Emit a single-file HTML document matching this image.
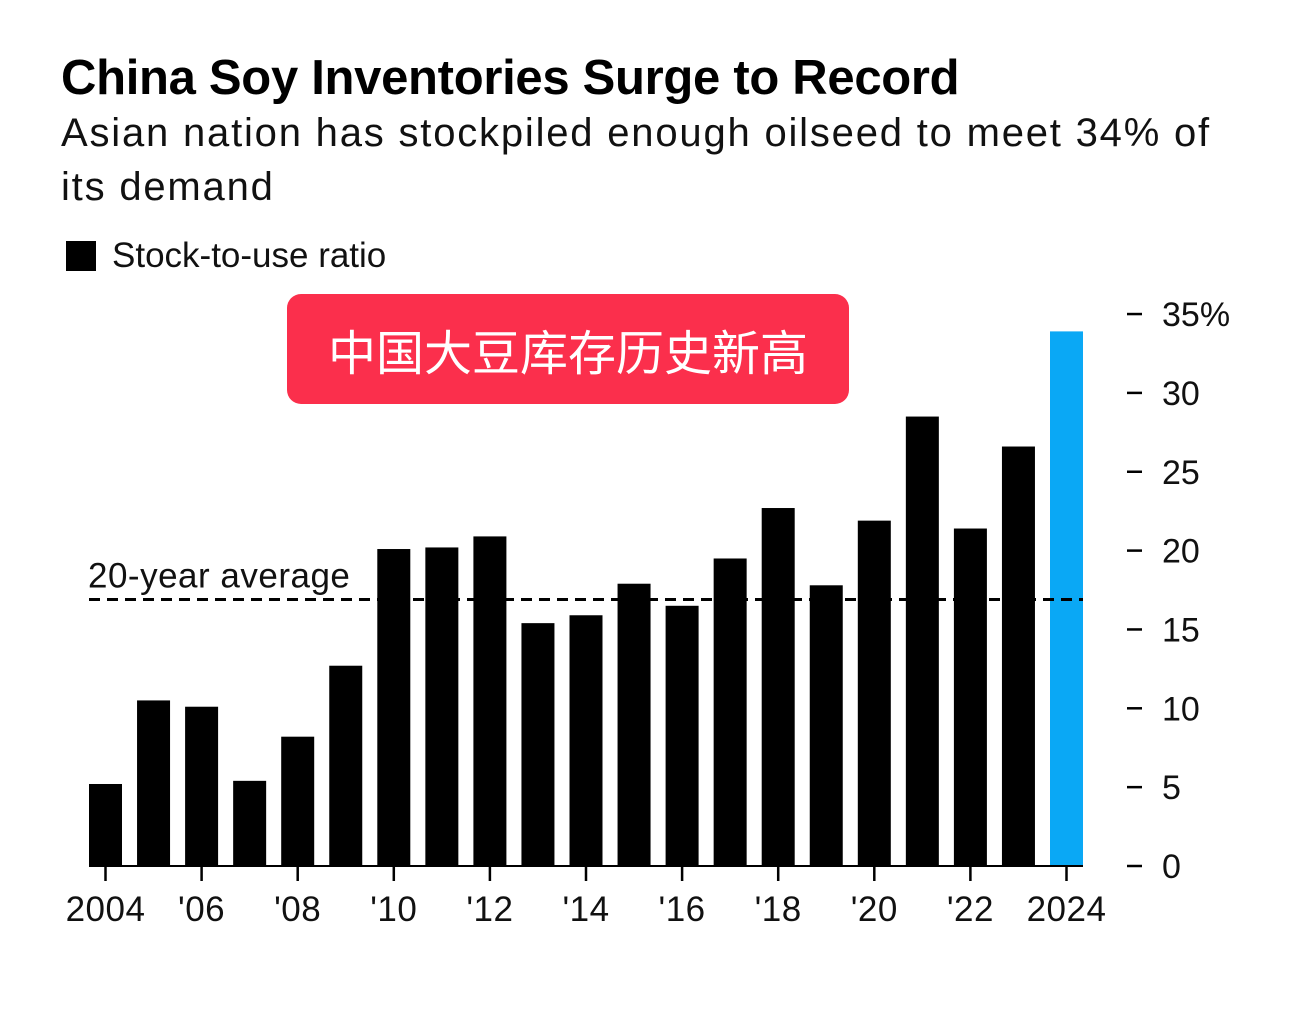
<!DOCTYPE html>
<html><head><meta charset="utf-8">
<style>
body{margin:0;background:#fff;width:1290px;height:1033px;overflow:hidden;font-family:"Liberation Sans","Noto Sans CJK SC",sans-serif;}
.t{position:absolute;left:61px;top:50px;font-size:49px;font-weight:bold;color:#000;letter-spacing:-0.3px}
.s{position:absolute;left:61px;top:106px;font-size:40px;color:#111;line-height:54px;width:1220px;letter-spacing:1.8px;white-space:nowrap}
.lg{position:absolute;left:66px;top:236px;font-size:35px;color:#111}
.lg span{display:inline-block;width:30px;height:30px;background:#000;vertical-align:-4px;margin-right:16px}
.red{position:absolute;left:287px;top:294px;width:562px;height:110px;background:#fb2f4c;border-radius:14px;color:#fff;font-size:48px;text-align:center;line-height:110px;font-family:"Noto Sans CJK SC",sans-serif}
svg{position:absolute;left:0;top:0}
</style></head><body>
<div class="t">China Soy Inventories Surge to Record</div>
<div class="s">Asian nation has stockpiled enough oilseed to meet 34% of<br>its demand</div>
<div class="lg"><span></span>Stock-to-use ratio</div>
<svg id="c" width="1290" height="1033"></svg>
<div class="red">中国大豆库存历史新高</div>
<script>
const years=[2004,2005,2006,2007,2008,2009,2010,2011,2012,2013,2014,2015,2016,2017,2018,2019,2020,2021,2022,2023,2024];
const values=[5.2,10.5,10.1,5.4,8.2,12.7,20.1,20.2,20.9,15.4,15.9,17.9,16.5,19.5,22.7,17.8,21.9,28.5,21.4,26.6,33.9];
const average=[16.9];
const yTicks=[0,5,10,15,20,25,30,35];
const yTickLabels=["0","5","10","15","20","25","30","35%"];
const xLabels=["2004","'06","'08","'10","'12","'14","'16","'18","'20","'22","2024"];
const svg=document.getElementById('c');const NS='http://www.w3.org/2000/svg';
const y0=866,pxPer=15.77,x0=89,pitch=48.05,bw=33;
const Y=v=>y0-v*pxPer;const X=i=>x0+i*pitch;
function mk(t,a){const e=document.createElementNS(NS,t);for(const k in a)e.setAttribute(k,a[k]);svg.appendChild(e);return e;}
values.forEach((v,i)=>{const r=mk('rect',{x:X(i),y:Y(v),width:bw,height:v*pxPer,fill:i===values.length-1?'#0aa8f5':'#000'});

});
const bl=mk('line',{x1:x0,x2:X(values.length-1)+bw,y1:y0,y2:y0,stroke:'#000','stroke-width':2});


const av=mk('line',{x1:x0,x2:X(values.length-1)+bw,y1:Y(average[0]),y2:Y(average[0]),stroke:'#000','stroke-width':3,'stroke-dasharray':'11 7'});


const at=mk('text',{x:88,y:Y(average[0])-12,'font-size':35,'letter-spacing':0.5,fill:'#111','font-family':'Liberation Sans'});at.textContent='20-year average';


yTicks.forEach((t,i)=>{const yy=Y(t);
const l=mk('line',{x1:1127,x2:1142,y1:yy,y2:yy,stroke:'#000','stroke-width':2.5});


const tx=mk('text',{x:1162,y:yy+12,'font-size':34,fill:'#111','font-family':'Liberation Sans'});tx.textContent=yTickLabels[i];

});
xLabels.forEach((s,k)=>{const cx=X(k*2)+bw/2;
const l=mk('line',{x1:cx,x2:cx,y1:y0,y2:y0+15,stroke:'#000','stroke-width':2.5});


const tx=mk('text',{x:cx,y:921,'font-size':35,'letter-spacing':0.5,fill:'#111','text-anchor':'middle','font-family':'Liberation Sans'});tx.textContent=s;

});
</script>
</body></html>
